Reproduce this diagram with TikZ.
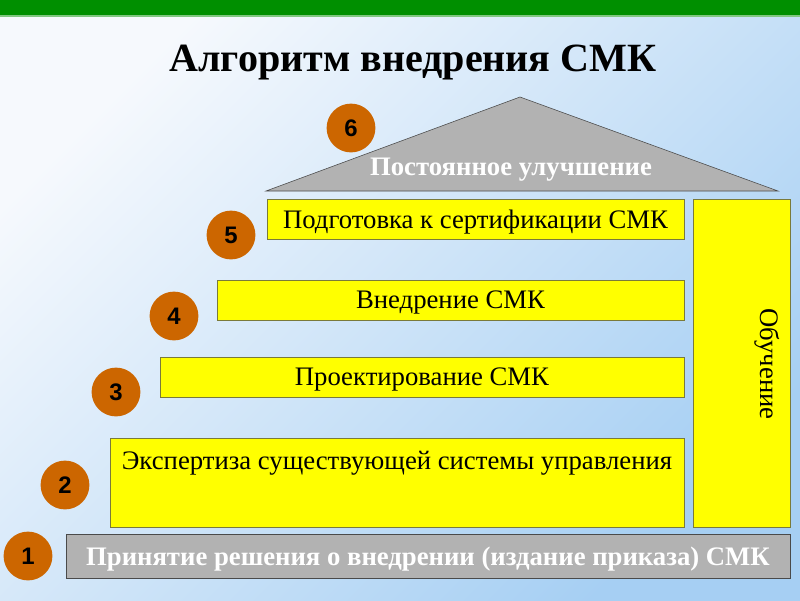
\documentclass[tikz,border=0pt]{standalone}
\usepackage{fontspec}
\setmainfont{Liberation Serif}
\newfontfamily\numfont{Liberation Sans}
\usetikzlibrary{positioning}
\definecolor{barGreen}{HTML}{008F00}
\definecolor{bgLight}{HTML}{F6F9FD}
\definecolor{bgBlue}{HTML}{A6CFF3}
\definecolor{stepYellow}{HTML}{FFFF00}
\definecolor{stepEdge}{HTML}{7A7A3A}
\definecolor{roofGray}{HTML}{B2B2B2}
\definecolor{roofEdge}{HTML}{4A4A4A}
\definecolor{dotOrange}{HTML}{CC6600}

\begin{document}
\begin{tikzpicture}[x=0.025cm,y=-0.025cm,
	ybox/.style={draw=stepEdge, fill=stepYellow, inner sep=0pt, minimum height=1cm, text depth=0pt, font=\fontsize{19}{21}\selectfont},
	gbox/.style={draw=roofEdge, fill=roofGray, inner sep=0pt, text depth=0pt, text=white, font=\bfseries\fontsize{19}{21}\selectfont},
	numdot/.style={circle, fill=dotOrange, minimum size=1.22cm, inner sep=0pt, font=\numfont\bfseries\fontsize{17}{17}\selectfont}]
	% background
	\useasboundingbox (0,0) rectangle (800,600);
	\shade[top color=bgLight, bottom color=bgBlue, shading angle=45] (0,0) rectangle (800,600);
	\fill[barGreen] (0,0) rectangle (800,15);
	\fill[barGreen!50] (0,15) rectangle (800,16.5);
	\node (title) at (413,62) {\bfseries\fontsize{28.5}{30}\selectfont Алгоритм внедрения СМК};
	% roof
	\draw[roofEdge, fill=roofGray] (266,191) -- (520,97) -- (778,191) -- cycle;
	\node[text=white, font=\bfseries\fontsize{19}{21}\selectfont] (roof) at (511,170) {Постоянное улучшение};
	% steps
	\node[gbox, minimum width=18.1cm, minimum height=1.1cm] (s1) at (428,556) {Принятие решения о внедрении (издание приказа) СМК};
	\node[ybox, minimum width=14.35cm, minimum height=2.225cm] (s2) at (397,482.5) {};
	\node[ybox, minimum width=13.1cm] (s3) at (422,377) {Проектирование СМК};
	\node[ybox, minimum width=11.675cm] (s4) at (450.5,300) {Внедрение СМК};
	\node[ybox, minimum width=10.425cm] (s5) at (475.5,219) {Подготовка к сертификации СМК};
	\node[ybox, minimum width=2.425cm, minimum height=8.2cm] (learn) at (741.5,363) {};
	\node[font=\fontsize{19}{21}\selectfont, below=0.22cm of s2.north] (s2text) {Экспертиза существующей системы управления};
	\node[font=\fontsize{19}{21}\selectfont, rotate=-90] (learntext) at (767,364) {Обучение};
	% numbers
	\node[numdot] (n1) at (28,556) {1};
	\node[numdot] (n2) at (65,485) {2};
	\node[numdot] (n3) at (116,392) {3};
	\node[numdot] (n4) at (174,316) {4};
	\node[numdot] (n5) at (231,235) {5};
	\node[numdot] (n6) at (351,128) {6};
\end{tikzpicture}
\end{document}
